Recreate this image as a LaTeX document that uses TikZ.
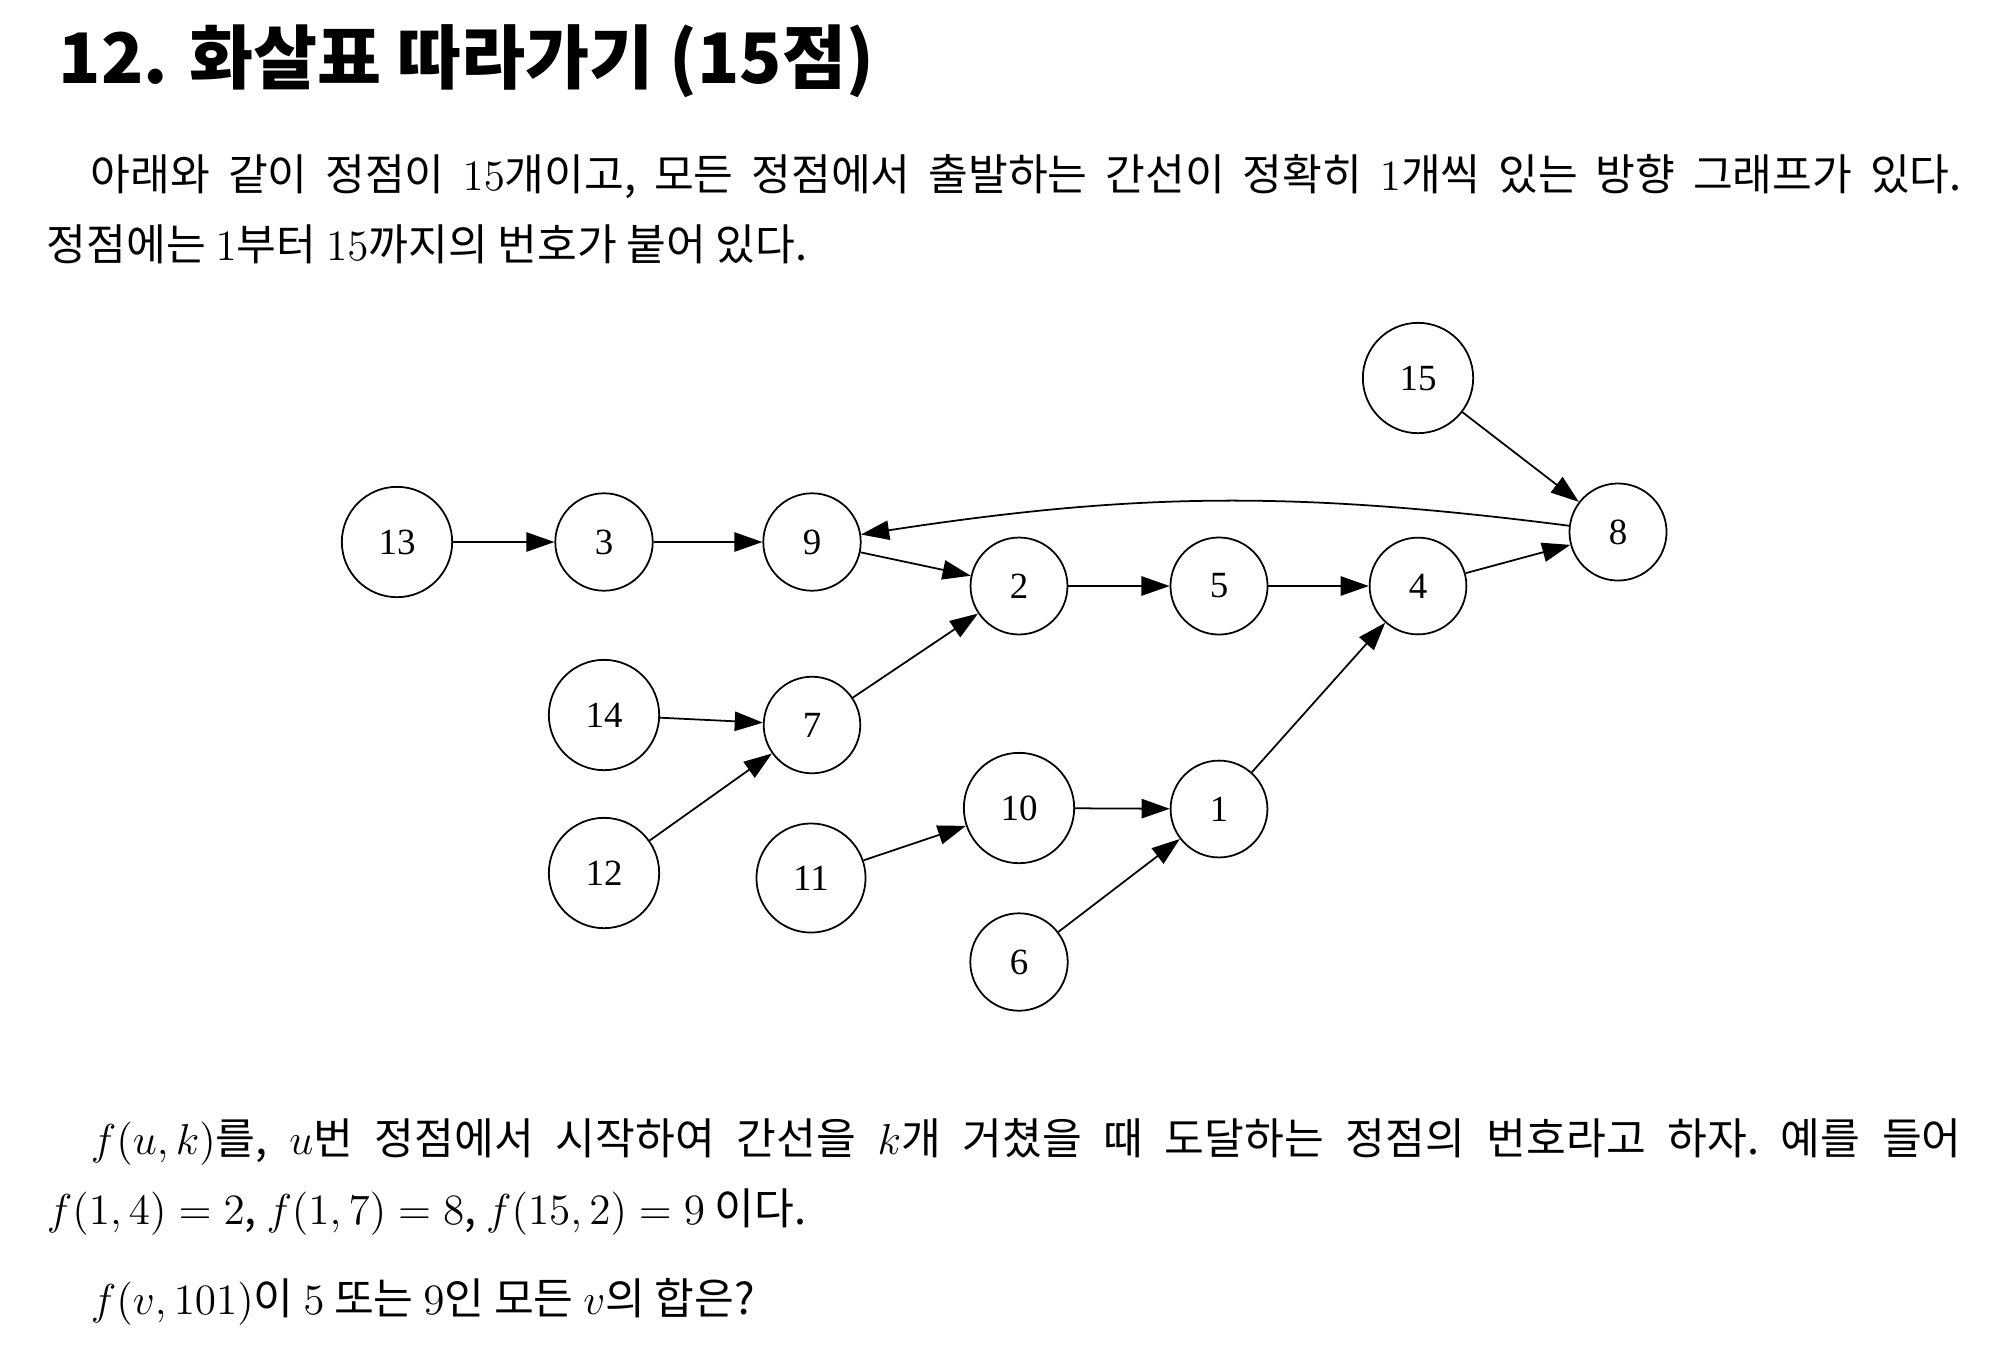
\RequirePackage{fix-cm}
\documentclass[tikz,border=0pt]{standalone}
\usepackage{fontspec}
\newfontfamily\kr[WordSpace=1.85]{Noto Sans CJK KR}
\newfontfamily\krt{Noto Sans CJK KR}
\newfontfamily\tms{Liberation Serif}
\usetikzlibrary{arrows.meta}

\begin{document}
\begin{tikzpicture}[x=0.01cm, y=-0.01cm, >={Triangle[length=8pt, width=5.5pt]}, line width=0.5pt,
  vx/.style={draw, circle, inner sep=6.7pt, font=\tms\fontsize{10.5}{12}\selectfont},
  txt/.style={anchor=base west, inner sep=0pt, font=\kr\fontsize{12.3}{15}\selectfont\frenchspacing}]
\useasboundingbox (0,0) rectangle (2010,1348);
% title and question
\node[txt, font=\krt\bfseries\fontsize{19.8}{24}\selectfont] (T) at (58,83) {12. 화살표 따라가기 (15점)};
\node[txt] (L1) at (90,190) {\makebox[532pt][s]{아래와 같이 정점이 $15$개이고, 모든 정점에서 출발하는 간선이 정확히 $1$개씩 있는 방향 그래프가 있다.}};
\node[txt] (L2) at (46,260) {정점에는 $1$부터 $15$까지의 번호가 붙어 있다.};
% graph
\node[vx] (v13) at (397,542) {13};
\node[vx] (v3) at (604,542) {3};
\node[vx] (v9) at (812,542) {9};
\node[vx] (v2) at (1019,586) {2};
\node[vx] (v5) at (1219,586) {5};
\node[vx] (v4) at (1418,586) {4};
\node[vx] (v8) at (1618,532) {8};
\node[vx] (v15) at (1418,378) {15};
\node[vx] (v14) at (604,715) {14};
\node[vx] (v7) at (812,725) {7};
\node[vx] (v12) at (604,873) {12};
\node[vx] (v11) at (811,878) {11};
\node[vx] (v10) at (1019,808) {10};
\node[vx] (v1) at (1219,809) {1};
\node[vx] (v6) at (1019,962) {6};
\draw[->] (v13) -- (v3); \draw[->] (v3) -- (v9); \draw[->] (v9) -- (v2); \draw[->] (v2) -- (v5);
\draw[->] (v5) -- (v4); \draw[->] (v4) -- (v8); \draw[->] (v15) -- (v8);
\draw[->] (v8) to[bend right=8] (v9);
\draw[->] (v14) -- (v7); \draw[->] (v12) -- (v7); \draw[->] (v7) -- (v2);
\draw[->] (v11) -- (v10); \draw[->] (v10) -- (v1); \draw[->] (v6) -- (v1); \draw[->] (v1) -- (v4);
% definition and question
\node[txt] (L3) at (90,1154) {\makebox[532pt][s]{$f(u,k)$를, $u$번 정점에서 시작하여 간선을 $k$개 거쳤을 때 도달하는 정점의 번호라고 하자. 예를 들어}};
\node[txt] (L4) at (46,1224) {$f(1,4)=2$, $f(1,7)=8$, $f(15,2)=9$ 이다.};
\node[txt] (L5) at (90,1314) {$f(v,101)$이 $5$ 또는 $9$인 모든 $v$의 합은?};
\end{tikzpicture}
\end{document}
